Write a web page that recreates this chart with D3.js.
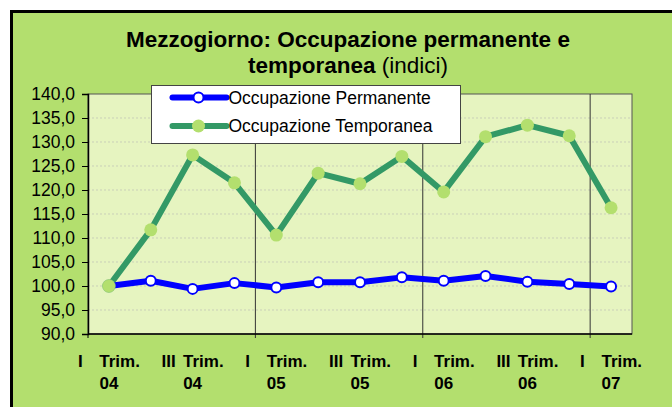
<!DOCTYPE html>
<html>
<head>
<meta charset="utf-8">
<script src="https://cdn.jsdelivr.net/npm/d3@7"></script>
<style>
  body { margin: 0; background: #fff; }
  svg { display: block; font-family: "Liberation Sans", Arial, sans-serif; }
</style>
</head>
<body>
<div id="chart"></div>
<script>
// categories: quarters from I 2004 to I 2007
const quarters = ["I Trim. 04", "II Trim. 04", "III Trim. 04", "IV Trim. 04",
  "I Trim. 05", "II Trim. 05", "III Trim. 05", "IV Trim. 05",
  "I Trim. 06", "II Trim. 06", "III Trim. 06", "IV Trim. 06", "I Trim. 07"];
const permanente = [100.0, 101.1, 99.4, 100.6, 99.7, 100.8, 100.8, 101.8, 101.1, 102.1, 100.9, 100.4, 99.9];
const temporanea = [100.0, 111.7, 127.3, 121.5, 110.6, 123.5, 121.3, 127.0, 119.6, 131.1, 133.5, 131.3, 116.3];
const yTicks = [90, 95, 100, 105, 110, 115, 120, 125, 130, 135, 140];
const seriesNames = ["Occupazione Permanente", "Occupazione Temporanea"];

const W = 672, H = 407;
const margin = { left: 88, top: 94, right: 40, bottom: 73 };
const width = W - margin.left - margin.right;
const height = H - margin.top - margin.bottom;

const svg = d3.select("#chart").append("svg")
  .attr("width", W).attr("height", H);

// outer frame (clipped on right and bottom)
svg.append("rect")
  .attr("x", 11.5).attr("y", 11.5).attr("width", W).attr("height", H)
  .attr("fill", "#b3df6e").attr("stroke", "#000").attr("stroke-width", 3);

// title
const title = svg.append("text")
  .attr("x", 348).attr("text-anchor", "middle")
  .attr("font-size", 22.5).attr("font-weight", "bold");
title.append("tspan").attr("x", 348).attr("y", 47).text("Mezzogiorno: Occupazione permanente e");
title.append("tspan").attr("x", 348).attr("y", 73).text("temporanea");
title.append("tspan").attr("font-weight", "normal").text(" (indici)");

const g = svg.append("g").attr("transform", `translate(${margin.left},${margin.top})`);

const x = d3.scaleBand().domain(quarters).range([0, width]);
const y = d3.scaleLinear().domain([90, 140]).range([height, 0]);

// plot area
g.append("rect").attr("width", width).attr("height", height)
  .attr("fill", "#e6f4c0").attr("stroke", "#555").attr("stroke-width", 1);

// horizontal grid
g.append("g").selectAll("line")
  .data(yTicks.slice(1, -1))
  .join("line")
  .attr("x1", 0).attr("x2", width)
  .attr("y1", d => y(d)).attr("y2", d => y(d))
  .attr("stroke", "#c9cfb8").attr("stroke-dasharray", "2,2");

// year separators
g.append("g").selectAll("line")
  .data([4, 8, 12])
  .join("line")
  .attr("x1", i => x(quarters[i])).attr("x2", i => x(quarters[i]))
  .attr("y1", 0).attr("y2", height + 4)
  .attr("stroke", "#333").attr("stroke-width", 1);

// y axis
const yAxis = g.append("g")
  .call(d3.axisLeft(y).tickValues(yTicks).tickSize(6)
    .tickFormat(d => d3.format(".1f")(d).replace(".", ",")));
yAxis.select(".domain").attr("stroke", "#000").attr("stroke-width", 1.5);
yAxis.selectAll("text").attr("font-size", 17.5).attr("fill", "#000")
  .attr("font-family", "Liberation Sans, Arial, sans-serif").attr("x", -13);

// x axis line
g.append("line").attr("x1", 0).attr("x2", width)
  .attr("y1", height).attr("y2", height)
  .attr("stroke", "#000").attr("stroke-width", 1.5);
g.append("line").attr("x1", 0).attr("x2", 0)
  .attr("y1", height).attr("y2", height + 4).attr("stroke", "#000");

// x labels: every other quarter, wrapped in two lines
const lab = g.append("g").attr("font-size", 17).attr("font-weight", "bold")
  .selectAll("g")
  .data(quarters.filter((d, i) => i % 2 === 0))
  .join("g")
  .attr("transform", d => `translate(${x(d) + x.bandwidth() / 2},0)`);
lab.append("text").attr("x", -31).attr("y", height + 33)
  .text(d => d.split(" ")[0]);
lab.append("text").attr("x", 31).attr("y", height + 33).attr("text-anchor", "end")
  .text(d => d.split(" ")[1]);
lab.append("text").attr("x", 0).attr("y", height + 55).attr("text-anchor", "middle")
  .text(d => d.split(" ")[2]);

const line = d3.line()
  .x((d, i) => x(quarters[i]) + x.bandwidth() / 2)
  .y(d => y(d));

// temporanea
g.append("path").datum(temporanea).attr("d", line)
  .attr("fill", "none").attr("stroke", "#339966").attr("stroke-width", 6)
  .attr("stroke-linejoin", "round");
g.append("g").selectAll("circle").data(temporanea).join("circle")
  .attr("cx", (d, i) => x(quarters[i]) + x.bandwidth() / 2)
  .attr("cy", d => y(d)).attr("r", 6.5)
  .attr("fill", "#b3df6e");

// permanente
g.append("path").datum(permanente).attr("d", line)
  .attr("fill", "none").attr("stroke", "#0000ff").attr("stroke-width", 6)
  .attr("stroke-linejoin", "round");
g.append("g").selectAll("circle").data(permanente).join("circle")
  .filter((d, i) => i > 0)
  .attr("cx", (d, i) => x(quarters[i + 1]) + x.bandwidth() / 2)
  .attr("cy", d => y(d)).attr("r", 5)
  .attr("fill", "#fff").attr("stroke", "#0000ff").attr("stroke-width", 2);
// first point: green marker drawn above blue
g.append("circle")
  .attr("cx", x(quarters[0]) + x.bandwidth() / 2).attr("cy", y(temporanea[0]))
  .attr("r", 6.5).attr("fill", "#b3df6e").attr("stroke", "#7fbf7f").attr("stroke-width", 0.5);

// legend
const leg = svg.append("g").attr("transform", "translate(151.5,85.5)");
leg.append("rect").attr("width", 309).attr("height", 58)
  .attr("fill", "#fff").attr("stroke", "#444").attr("stroke-width", 1);
const legColors = [
  { stroke: "#0000ff", fill: "#fff", r: 5, sw: 2 },
  { stroke: "#339966", fill: "#b3df6e", r: 6.5, sw: 0 }
];
seriesNames.forEach((name, i) => {
  const yy = 12 + i * 28.5;
  const c = legColors[i];
  leg.append("line").attr("x1", 21).attr("x2", 75).attr("y1", yy).attr("y2", yy)
    .attr("stroke", c.stroke).attr("stroke-width", 6).attr("stroke-linecap", "round");
  leg.append("circle").attr("cx", 47).attr("cy", yy).attr("r", c.r)
    .attr("fill", c.fill).attr("stroke", c.sw ? c.stroke : "none").attr("stroke-width", c.sw);
  leg.append("text").attr("x", 77).attr("y", yy + 6).attr("font-size", 17.5).text(name);
});
</script>
</body>
</html>
